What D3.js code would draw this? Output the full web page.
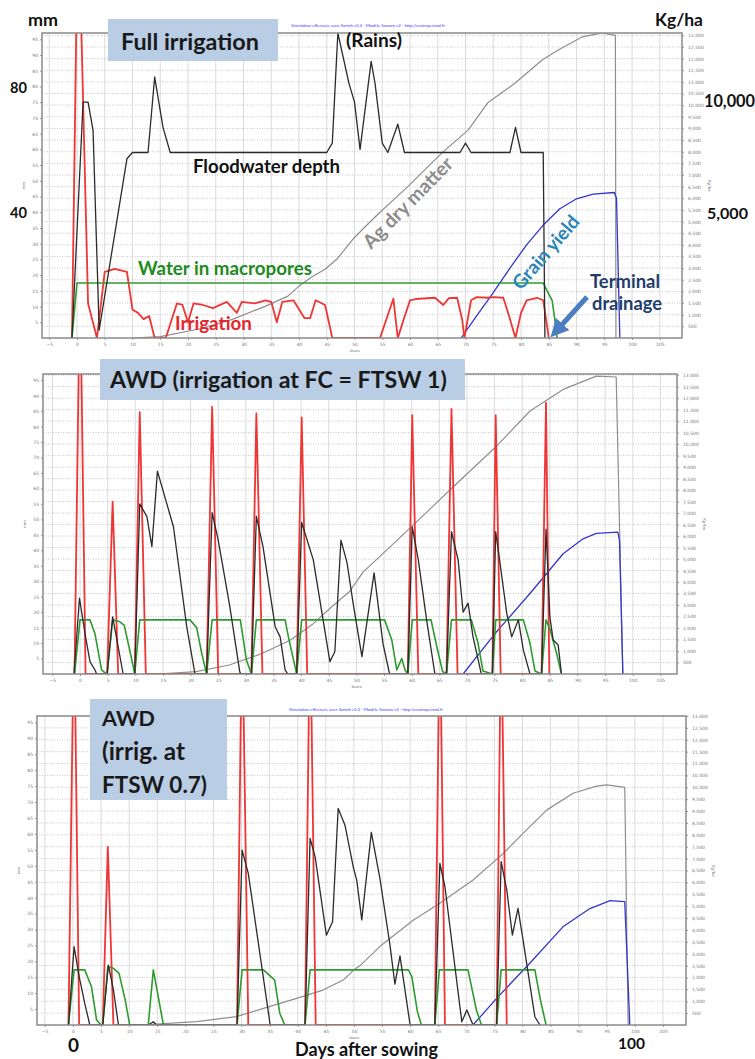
<!DOCTYPE html>
<html>
<head>
  <meta charset="utf-8" />
  <title>Water regimes - SAMARA simulation</title>
  <script src="https://d3js.org/d3.v7.min.js"></script>
</head>
<style>
body {
  margin: 0;
  background: #fff;
}
svg text {
  font-family: Lato, 'Open Sans', sans-serif;
}
.tick text {
  font-family: 'DejaVu Sans', sans-serif;
  font-size: 4.5px;
  fill: #777;
}
.tick line {
  stroke: #999;
}
.domain {
  stroke: none;
}
</style>
<body>
<div id="viz"></div>
<script>
'use strict';

// tick values
const dayTicks = [-5, 0, 5, 10, 15, 20, 25, 30, 35, 40, 45, 50, 55, 60, 65, 70, 75, 80, 85, 90, 95, 100, 105];
const mmTicks = [5, 10, 15, 20, 25, 30, 35, 40, 45, 50, 55, 60, 65, 70, 75, 80, 85, 90, 95];
const kgTicks = [500, 1000, 1500, 2000, 2500, 3000, 3500, 4000, 4500, 5000, 5500, 6000, 6500,
  7000, 7500, 8000, 8500, 9000, 9500, 10000, 10500, 11000, 11500, 12000, 12500, 13000];

// panel 1: full irrigation  [day, mm] / [day, kg/ha]
const fullIrrigation = [[-0.9, 0], [0.2, 140], [2, 11], [3.6, 0], [5, 21], [6.8, 22], [9, 21], [10, 9],
  [11, 8], [12, 6], [13, 7], [14, 0], [16, 0], [18, 11], [19, 10.5], [20, 5], [21, 11], [22.7, 10.5],
  [24.5, 9.5], [27, 11.5], [28.8, 8], [29.7, 11.5], [32, 11], [34, 12], [35, 11.5], [36, 5], [37, 11.5],
  [39, 12], [41, 6.3], [42, 6.3], [43, 12], [44.7, 10.5], [46, 0], [54.6, 0], [57, 12.5], [57.8, 0],
  [59, 6.7], [60, 12], [61, 12.4], [64.5, 12.8], [66, 10.5], [67, 12.7], [68.5, 12.8], [69.4, 5.8],
  [69.8, 0], [71, 12], [72, 13], [74, 12.8], [75, 13], [76.8, 12.8], [77.5, 9], [79, 0], [80, 8],
  [81, 12], [82.9, 12.8], [84, 12], [85, 0]];
const fullFlood = [[-0.9, 0], [1.1, 75], [2, 75], [2.9, 66], [4, 2.5], [9, 57], [10, 59], [12.8, 59],
  [14, 83], [15.5, 67], [16.8, 59], [45, 59], [46, 62], [47, 97], [49, 81], [50, 75], [51, 60], [53, 88],
  [53.7, 81], [55, 62], [56, 59], [57.8, 68], [59, 59], [69, 59], [70, 62], [71, 59], [78, 59], [79, 67],
  [80, 59], [84, 59], [84.3, 0]];
const fullMacro = [[-0.9, 0], [0, 17.5], [84, 17.5], [84.7, 15], [85.6, 12], [86, 7], [86.5, 0]];
const fullDryMatter = [[10, 0], [15, 60], [22, 385], [28, 800], [34, 1370], [38, 1800], [40, 2230],
  [42.5, 2650], [44.7, 2950], [46.8, 3380], [49.7, 4240], [52, 4800], [54.6, 5400], [59.6, 6500],
  [65.8, 7960], [70.5, 8940], [74, 10100], [79, 10960], [83.8, 11940], [86.7, 12370], [91, 12930],
  [94.6, 13100], [97, 13000], [97.1, 0]];
const fullGrain = [[69.2, 0], [72, 950], [75, 1950], [78, 3000], [81, 4000], [84, 4850], [87, 5550],
  [90, 5980], [93, 6180], [96.8, 6250], [97.2, 6000], [97.8, 0]];

// panel 2: AWD, irrigation at FC
const awd1Irrigation = [[-1, 0], [0, 130], [1, 0], [4.9, 0], [5.9, 55.7], [6.9, 0], [9.9, 0], [10.8, 84.7],
  [11.9, 0], [22.9, 0], [23.9, 86.4], [25, 0], [31, 0], [31.9, 84.3], [33, 0], [39.2, 0], [40.1, 83],
  [41.1, 0], [59.3, 0], [60.1, 83.7], [61.2, 0], [66.3, 0], [67.2, 85.7], [68.3, 0], [74.6, 0],
  [75.2, 83.7], [76.1, 0], [83.5, 0], [84.3, 87.7], [84.9, 0]];
const awd1Flood = [[-1.1, 0], [-0.1, 24.5], [0.9, 13.1], [1.8, 4], [2.7, 1.3], [3, 0], [4.9, 0], [5.9, 18.5],
  [6.9, 8.8], [7.8, 0], [9.9, 0], [10.8, 55], [12.1, 50.9], [13, 41.2], [14, 65.6], [16.9, 47.6],
  [19.3, 15.3], [20.8, 0], [22.9, 0], [23.9, 52.2], [25, 43.3], [27.1, 21.8], [28.9, 0.7], [29.1, 0],
  [31, 0], [31.9, 51], [33.1, 41.2], [35.3, 15.3], [36.2, 12], [37.1, 1.3], [37.6, 0], [39.2, 0],
  [40.1, 49], [42.2, 36.9], [45.2, 4], [46.1, 7.2], [47.2, 43.3], [48.3, 36], [49.4, 22.9], [50, 16.4],
  [51, 5.6], [53.2, 32.7], [54.8, 9.9], [56, 0], [59.3, 0], [60.1, 47.6], [61.2, 36.9], [62.7, 17.5],
  [64.2, 0], [66.3, 0], [67.2, 46], [68.4, 36.9], [69.3, 20], [70.2, 22.9], [71.1, 12], [72.6, 0],
  [74.6, 0], [75.2, 46], [75.9, 36.9], [77.2, 19.6], [78.1, 12], [79.3, 17.5], [80.2, 7.8], [81.4, 0],
  [83.5, 0], [84.3, 46.8], [85, 18.5], [85.6, 11], [86.5, 9.4], [87.1, 0]];
const awd1Macro = [[-1, 0], [0, 17.5], [1.8, 17.5], [2.7, 13], [3.9, 1.3], [4.8, 0], [4.9, 0], [5.9, 17.5],
  [7.1, 17], [8, 15.7], [9.1, 6.8], [9.9, 0], [10.8, 17.5], [19.9, 17.5], [21.1, 15], [22, 6.8],
  [22.9, 0], [23.9, 17.5], [29, 17.5], [30.1, 4.5], [31, 0], [31.9, 17.5], [37.1, 17.5], [37.7, 12],
  [38.6, 4.7], [39.2, 0], [40.1, 17.5], [55.1, 17.5], [56.4, 11], [57.3, 1.3], [58.2, 5], [58.8, 1.3],
  [59.3, 0], [60.1, 17.5], [63.5, 17.5], [64.7, 7.6], [65.6, 0.8], [66.3, 0], [67.2, 17.5], [70.8, 17.5],
  [72, 10], [72.9, 1], [74.6, 0], [75.2, 17.5], [80.2, 17.5], [81.4, 10], [82.3, 1], [83.5, 0],
  [84.3, 17.5], [85, 14.6], [86.2, 6.8], [87.1, 0]];
const awd1DryMatter = [[14, 0], [21, 100], [27, 390], [33, 900], [38, 1470], [42, 2150], [45.2, 2850],
  [48.8, 3600], [51.2, 4430], [57.3, 5800], [63.3, 7170], [69.3, 8550], [75.4, 9920], [81.4, 11440],
  [87.4, 12380], [93.4, 12960], [97, 12920], [98.2, 0]];
const awd1Grain = [[69.3, 0], [75.4, 1850], [81.4, 3500], [87.4, 5230], [91, 5880], [93.4, 6120],
  [97.3, 6170], [97.6, 5800], [98.2, 0]];

// panel 3: AWD, irrigation at FTSW 0.7
const awd07Irrigation = [[-0.8, 0], [0.2, 130], [1.1, 0], [5.3, 0], [6.2, 56], [7.2, 0], [29.2, 0],
  [30.1, 130], [31.2, 0], [41.3, 0], [42.2, 130], [43.2, 0], [64.4, 0], [65.3, 130], [66.2, 0],
  [75.4, 0], [76.2, 130], [77.2, 0]];
const awd07Flood = [[-0.8, 0], [0.2, 24.6], [1.1, 15.2], [2.1, 6.8], [3, 0], [5.3, 0], [6.3, 18.8],
  [7.2, 11], [8.1, 0], [13.4, 0], [14.3, 1], [14.9, 0], [29.2, 0], [30.1, 54.9], [31.2, 47.6], [35.1, 0],
  [41.3, 0], [42.2, 58.6], [43.1, 52.8], [45.1, 28.2], [46.2, 32.4], [47.2, 68], [48.4, 62.8],
  [49.9, 49.5], [50.5, 45.5], [51.4, 33], [53.1, 60.5], [54.6, 46.3], [56.4, 25.3], [57.3, 12.8],
  [58.2, 21.7], [60, 0], [64.4, 0], [65.3, 50.7], [66.2, 43.4], [69.2, 1], [70.1, 4.7], [71.2, 0],
  [75.4, 0], [76.2, 51.3], [77.2, 42.4], [78.2, 28.2], [79.2, 36.6], [80.1, 26.7], [82.2, 2.6], [83.1, 0]];
const awd07Macro = [[-0.8, 0], [0.2, 17.3], [2.1, 17.3], [3.3, 12], [4.2, 1.6], [5, 0], [5.3, 0],
  [6.2, 18.3], [7.2, 17.8], [8.2, 16.2], [9.3, 7.8], [10.1, 0], [13.4, 0], [14.3, 17.3], [16.1, 0],
  [29.2, 0], [30.1, 17.3], [33.9, 17.3], [35.9, 14.1], [36.8, 3.7], [37.7, 0], [41.3, 0], [42.2, 17.3],
  [59.7, 17.3], [60.3, 15.2], [61.3, 4.2], [62, 0], [64.4, 0], [65.2, 17.3], [70.3, 17.3], [71.8, 4.7],
  [72.7, 0], [75.4, 0], [76.2, 17.3], [82.2, 17.3], [83.2, 7.8], [84.2, 0]];
const awd07DryMatter = [[12, 0], [22, 140], [29.1, 350], [33.9, 700], [39.8, 1120], [44.5, 1470],
  [48.1, 1890], [49.9, 2300], [51.1, 2500], [54.6, 3300], [60.6, 4420], [65.3, 5120], [71.2, 6100],
  [76.6, 7220], [80.1, 8060], [84.3, 9040], [89, 9750], [93.2, 10050], [95, 10100], [98.2, 10000],
  [98.8, 0]];
const awd07Grain = [[71.2, 0], [75.4, 1120], [81.3, 2600], [87.2, 4130], [92, 4900], [95.6, 5230],
  [98.2, 5190], [99.1, 0]];

const credit = 'Simulation effectuée avec Sarrah v3.2 - Modèle Samara v2 - http://ecotrop.cirad.fr';

const panels = [
  {l: 42, r: 682, t: 33, b: 338, xd: [-6.3, 109], kgMax: 13100,
    irrigation: fullIrrigation, flood: fullFlood, macro: fullMacro, dry: fullDryMatter, grain: fullGrain},
  {l: 43, r: 677, t: 374, b: 674, xd: [-6.7, 108], kgMax: 13050,
    irrigation: awd1Irrigation, flood: awd1Flood, macro: awd1Macro, dry: awd1DryMatter, grain: awd1Grain},
  {l: 37, r: 686, t: 716, b: 1025, xd: [-6.4, 109.1], kgMax: 13000,
    irrigation: awd07Irrigation, flood: awd07Flood, macro: awd07Macro, dry: awd07DryMatter, grain: awd07Grain},
];

const svg = d3.select('#viz')
  .append('svg')
    .attr('width', 755)
    .attr('height', 1059);

svg.append('defs').append('marker')
    .attr('id', 'arrowhead')
    .attr('viewBox', '0 0 10 10')
    .attr('refX', 3).attr('refY', 5)
    .attr('markerWidth', 3.6).attr('markerHeight', 3.6)
    .attr('orient', 'auto')
  .append('path')
    .attr('d', 'M0,0 L10,5 L0,10 z')
    .attr('fill', '#4a7ec0');

function drawPanel(p, i) {
  const x = d3.scaleLinear().domain(p.xd).range([p.l, p.r]);
  const y = d3.scaleLinear().domain([0, 97]).range([p.b, p.t]);
  const y2 = d3.scaleLinear().domain([0, p.kgMax]).range([p.b, p.t]);

  const g = svg.append('g');
  const clipId = 'clip' + i;
  g.append('clipPath').attr('id', clipId)
    .append('rect')
      .attr('x', p.l).attr('y', p.t)
      .attr('width', p.r - p.l).attr('height', p.b - p.t);

  // grid
  g.append('g').selectAll('line').data(dayTicks).join('line')
    .attr('x1', d => x(d)).attr('x2', d => x(d))
    .attr('y1', p.t).attr('y2', p.b)
    .attr('stroke', '#dcdcdc').attr('stroke-width', 1);
  g.append('g').selectAll('line').data(kgTicks).join('line')
    .attr('x1', p.l).attr('x2', p.r)
    .attr('y1', d => y2(d)).attr('y2', d => y2(d))
    .attr('stroke', '#b8b8b8').attr('stroke-width', 0.8)
    .attr('stroke-dasharray', '1,1.5');

  // axes
  g.append('g')
    .attr('transform', 'translate(0,' + p.b + ')')
    .call(d3.axisBottom(x).tickValues(dayTicks).tickSize(2).tickPadding(3));
  g.append('g')
    .attr('transform', 'translate(' + p.l + ',0)')
    .call(d3.axisLeft(y).tickValues(mmTicks).tickSize(2).tickPadding(2));
  g.append('g')
    .attr('transform', 'translate(' + p.r + ',0)')
    .call(d3.axisRight(y2).tickValues(kgTicks).tickSize(2).tickPadding(4)
      .tickFormat(d3.format(',')));

  g.append('text')
    .attr('transform', 'translate(' + (p.l - 17) + ',' + ((p.t + p.b) / 2) + ') rotate(-90)')
    .attr('text-anchor', 'middle')
    .style('font-size', '4.5px').style('fill', '#777')
    .text('mm');
  g.append('text')
    .attr('transform', 'translate(' + (p.r + 26) + ',' + ((p.t + p.b) / 2) + ') rotate(90)')
    .attr('text-anchor', 'middle')
    .style('font-size', '4.5px').style('fill', '#777')
    .text('Kg/ha');
  g.append('text')
    .attr('x', x(50)).attr('y', p.b + 14)
    .attr('text-anchor', 'middle')
    .style('font-size', '4.5px').style('fill', '#777')
    .text('Jours');

  const lineMm = d3.line().x(d => x(d[0])).y(d => y(d[1]));
  const lineKg = d3.line().x(d => x(d[0])).y(d => y2(d[1]));

  const series = [
    {data: p.dry, line: lineKg, color: '#8e8e8e', w: 1.2},
    {data: p.grain, line: lineKg, color: '#3535cc', w: 1.3},
    {data: p.irrigation, line: lineMm, color: '#f03535', w: 1.8},
    {data: p.macro, line: lineMm, color: '#2f9a2f', w: 1.6},
    {data: p.flood, line: lineMm, color: '#2b2b2b', w: 1.3},
  ];
  const marks = g.append('g').attr('clip-path', 'url(#' + clipId + ')');
  series.forEach(s => {
    marks.append('path')
      .datum(s.data)
      .attr('d', s.line)
      .attr('fill', 'none')
      .attr('stroke', s.color)
      .attr('stroke-width', s.w)
      .attr('stroke-linejoin', 'round');
  });

  // frame
  g.append('rect')
    .attr('x', p.l).attr('y', p.t)
    .attr('width', p.r - p.l).attr('height', p.b - p.t)
    .attr('fill', 'none')
    .attr('stroke', '#8a8a8a')
    .attr('stroke-width', 1.5);
}

panels.forEach(drawPanel);

// bold label whose font size is fitted so that it spans `width` px
function label(txt, xx, yy, width, color, rot) {
  const t = svg.append('text')
    .style('font-size', '20px')
    .style('font-weight', 'bold')
    .style('fill', color || '#111')
    .text(txt);
  const len = t.node().getComputedTextLength();
  t.style('font-size', (20 * width / len).toFixed(2) + 'px');
  if (rot) {
    t.attr('transform', 'translate(' + xx + ',' + yy + ') rotate(' + rot + ')');
  } else {
    t.attr('x', xx).attr('y', yy);
  }
  return t;
}

function titleBox(x0, y0, w, h) {
  svg.append('rect')
    .attr('x', x0).attr('y', y0)
    .attr('width', w).attr('height', h)
    .attr('fill', '#b9cde5');
}

// credits
[[368, 27], [366, 711]].forEach(c => {
  svg.append('text')
    .attr('x', c[0]).attr('y', c[1])
    .attr('text-anchor', 'middle')
    .style('font-size', '4.3px')
    .style('fill', '#3a3aff')
    .text(credit);
});

// panel 1 annotations
titleBox(108, 19, 170, 42);
label('Full irrigation', 121, 50, 138, '#1a1a1a');
label('mm', 28, 26, 30);
label('80', 10, 93, 17);
label('40', 10, 218, 17);
label('Kg/ha', 655, 26, 48);
label('10,000', 704, 107, 51);
label('5,000', 707, 219, 41);
label('(Rains)', 346, 47, 56);
label('Floodwater depth', 193, 173, 147);
label('Water in macropores', 138, 275, 174, '#1f8a1f');
label('Irrigation', 175, 330, 77, '#e3262c');
label('Ag dry matter', 371, 250, 119, '#8c8c8c', -45.5);
label('Grain yield', 521, 291, 91, '#2b86b8', -49);
label('Terminal', 590, 288, 70, '#1f3d6b');
label('drainage', 592, 310, 70, '#1f3d6b');
svg.append('line')
  .attr('x1', 587).attr('y1', 297)
  .attr('x2', 559).attr('y2', 328)
  .attr('stroke', '#4a7ec0')
  .attr('stroke-width', 5)
  .attr('marker-end', 'url(#arrowhead)');

// panel 2 annotations
titleBox(100, 359, 365, 41);
label('AWD (irrigation at FC = FTSW 1)', 110, 388, 337, '#1a1a1a');

// panel 3 annotations
titleBox(90, 699, 137, 101);
label('AWD', 102, 726, 53, '#1a1a1a');
label('(irrig. at', 102, 760, 83, '#1a1a1a');
label('FTSW 0.7)', 102, 793, 105, '#1a1a1a');
label('0', 68, 1052, 11);
label('Days after sowing', 295, 1056, 143);
label('100', 618, 1049, 27);

</script>
</body>
</html>
